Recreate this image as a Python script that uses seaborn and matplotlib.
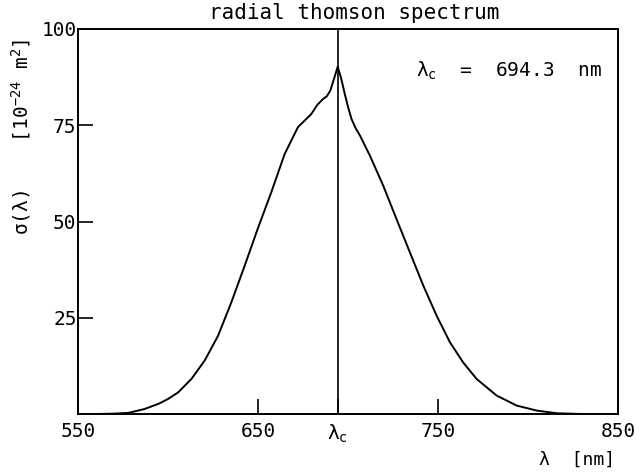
import matplotlib
matplotlib.use("Agg")
import matplotlib.pyplot as plt
import seaborn as sns
import pandas as pd

# Spectrum samples: wavelength (nm) and cross-section (1e-24 m^2)
wavelength = [550, 560, 570, 578, 587, 595, 600, 605.6, 613, 620.4, 627.8,
              635.2, 642.6, 650, 657.4, 664.8, 672.2, 679.6, 683, 686.1,
              688.2, 690.2, 692.4, 694.3, 696.2, 698.3, 700.2, 702, 704.2,
              706.7, 712.2, 719.6, 727, 734.4, 741.9, 749.3, 756.7, 764, 771.5,
              782.6, 793.7, 804.8, 816, 830, 850]
cross_section = [0.0, 0.0, 0.1, 0.3, 1.3, 2.7, 3.9, 5.6, 9.1, 13.9, 20.3,
                 29.0, 38.5, 48.3, 57.6, 67.5, 74.5, 77.9, 80.3, 81.8,
                 82.5, 84.0, 87.3, 90.2, 87.2, 83.0, 79.5, 76.6, 74.3,
                 72.3, 67.1, 59.3, 50.6, 42.0, 33.3, 25.5, 18.6, 13.4, 9.1,
                 4.8, 2.2, 0.9, 0.2, 0.0, 0.0]

lambda_c = 694.3
x_ticks = [550, 650, lambda_c, 750, 850]
x_tick_labels = ["550", "650", r"$\lambda_c$", "750", "850"]
y_ticks = [25, 50, 75, 100]
y_tick_labels = ["25", "50", "75", "100"]

sns.set_theme(style="ticks")
plt.rcParams["font.family"] = ["DejaVu Sans Mono", "DejaVu Sans"]
plt.rcParams["mathtext.fontset"] = "custom"
plt.rcParams["mathtext.rm"] = "DejaVu Sans Mono"
plt.rcParams["mathtext.it"] = "DejaVu Sans Mono"
plt.rcParams["mathtext.bf"] = "DejaVu Sans Mono"

df = pd.DataFrame({"wavelength": wavelength, "sigma": cross_section})

fig = plt.figure(figsize=(6.43, 4.73), dpi=100)
ax = fig.add_axes([0.1213, 0.1247, 0.8397, 0.814])

sns.lineplot(data=df, x="wavelength", y="sigma", color="black", linewidth=1.4, ax=ax)
ax.axvline(lambda_c, color="black", linewidth=1.2)

ax.set_xlim(550, 850)
ax.set_ylim(0, 100)
ax.set_xticks(x_ticks)
ax.set_xticklabels(x_tick_labels)
ax.set_yticks(y_ticks)
ax.set_yticklabels(y_tick_labels)
ax.tick_params(axis="both", direction="in", length=11, width=1.2, colors="black",
               labelsize=14)
ax.tick_params(axis="x", pad=6)
ax.tick_params(axis="y", pad=1)

for side in ax.spines.values():
    side.set_linewidth(1.4)
    side.set_color("black")

ax.set_xlabel("")
ax.text(0.994, -0.095, "λ  [nm]", transform=ax.transAxes, ha="right", va="top",
        fontsize=13, color="black")
ax.set_ylabel(r"σ(λ)    [10$^{-24}$ m$^2$]", fontsize=14, color="black")
ax.yaxis.set_label_coords(-0.083, 0.72)

fig.text(0.551, 1 - 13 / 473, "radial thomson spectrum", ha="center", va="center",
         fontsize=15, color="black")
ax.text(0.970, 0.891, r"$\lambda_c$  =  694.3  nm", transform=ax.transAxes,
        ha="right", va="center", fontsize=14, color="black")

ax.grid(False)
fig.savefig("out.png", dpi=100, facecolor="white")
